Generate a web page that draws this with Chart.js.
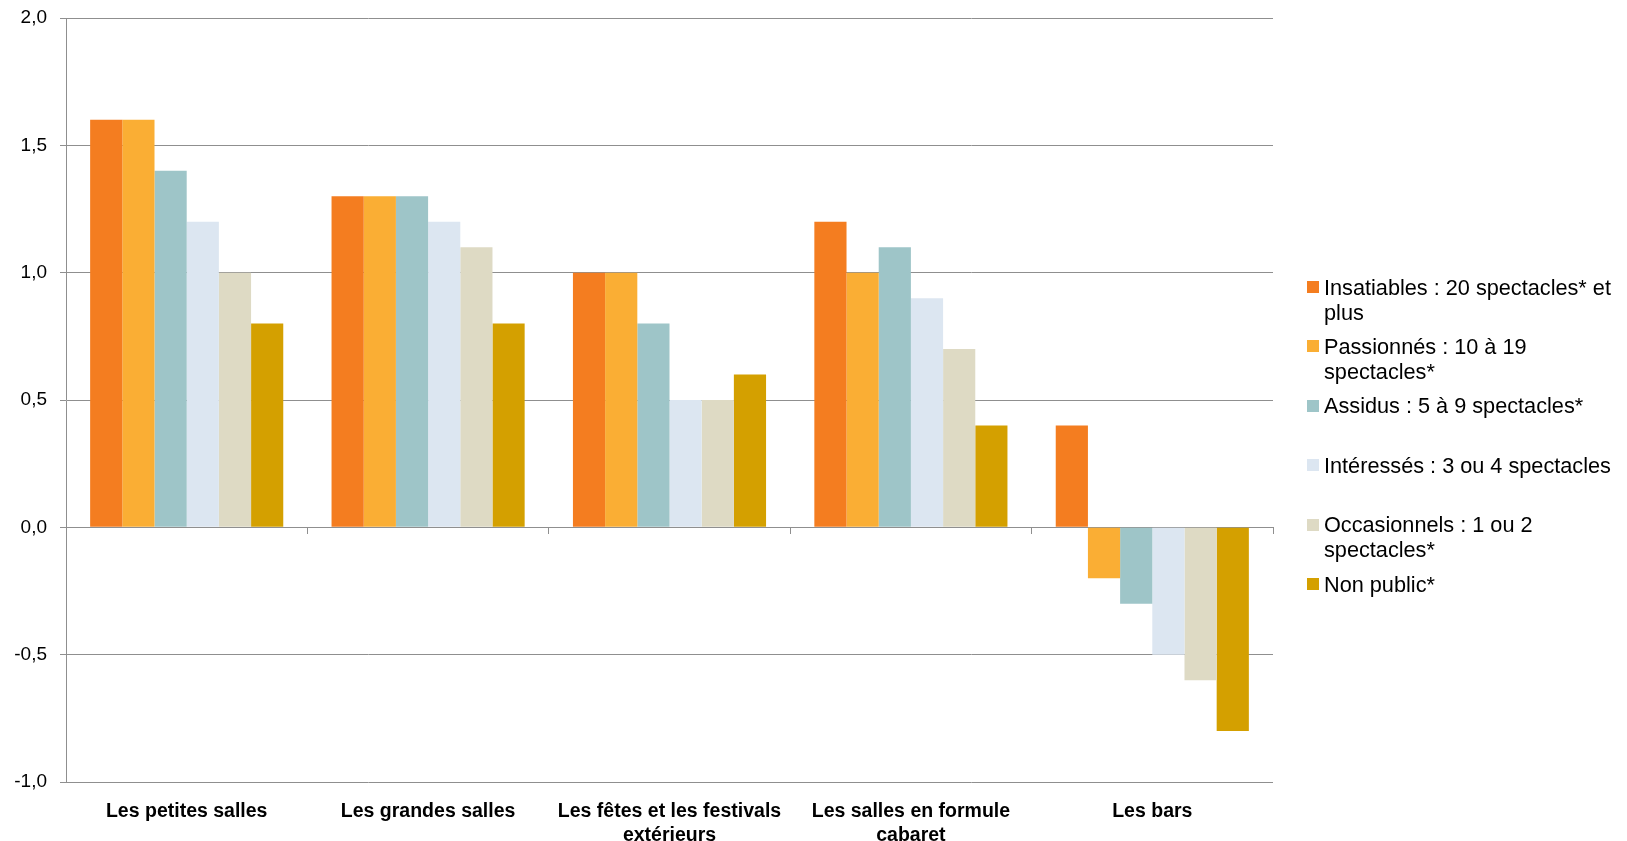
<!DOCTYPE html>
<html>
<head>
<meta charset="utf-8">
<script src="https://cdn.jsdelivr.net/npm/chart.js@4/dist/chart.umd.min.js"></script>
<style>
  html, body { margin: 0; padding: 0; background: #fff; }
  #wrap { position: relative; width: 1627px; height: 841px; overflow: hidden; }
  #c { position: absolute; left: 0; top: 0; }
  .leg { position: absolute; left: 1307px; font-family: "Liberation Sans", Arial, sans-serif; font-size: 21.7px; line-height: 25px; color: #000; white-space: nowrap; }
  .leg .sw { position: absolute; left: 0; top: 6.5px; width: 12px; height: 12px; }
  .leg .tx { position: absolute; left: 17px; top: 0; }
</style>
</head>
<body>
<div id="wrap">
  <canvas id="c" width="1627" height="841"></canvas>
</div>
<script>
// ---- data ----
const categories = [
  ["Les petites salles"],
  ["Les grandes salles"],
  ["Les fêtes et les festivals", "extérieurs"],
  ["Les salles en formule", "cabaret"],
  ["Les bars"]
];
const seriesNames = [
  ["Insatiables : 20 spectacles* et", "plus"],
  ["Passionnés : 10 à 19", "spectacles*"],
  ["Assidus : 5 à 9 spectacles*"],
  ["Intéressés : 3 ou 4 spectacles"],
  ["Occasionnels : 1 ou 2", "spectacles*"],
  ["Non public*"]
];
const insatiables  = [1.6, 1.3, 1.0, 1.2, 0.4];
const passionnes   = [1.6, 1.3, 1.0, 1.0, -0.2];
const assidus      = [1.4, 1.3, 0.8, 1.1, -0.3];
const interesses   = [1.2, 1.2, 0.5, 0.9, -0.5];
const occasionnels = [1.0, 1.1, 0.5, 0.7, -0.6];
const nonPublic    = [0.8, 0.8, 0.6, 0.4, -0.8];
const yTicks = [-1.0, -0.5, 0.0, 0.5, 1.0, 1.5, 2.0];

// ---- styles ----
const colors = ['#F47D20', '#FAAE34', '#9EC5C8', '#DCE6F1', '#DEDAC4', '#D4A000'];
const seriesValues = [insatiables, passionnes, assidus, interesses, occasionnels, nonPublic];
const gridColor = '#8f8f8f';
const FONT = '"Liberation Sans", Arial, sans-serif';

const datasets = seriesValues.map((vals, i) => ({
  label: seriesNames[i].join(' '),
  data: vals,
  backgroundColor: colors[i],
  borderWidth: 0,
  categoryPercentage: 0.8,
  barPercentage: 1.0
}));

const chart = new Chart(document.getElementById('c'), {
  type: 'bar',
  data: { labels: categories, datasets },
  options: {
    responsive: false,
    animation: false,
    devicePixelRatio: 1,
    layout: { padding: { left: 0, right: 354, top: 18, bottom: 0 } },
    plugins: { legend: { display: false }, tooltip: { enabled: false } },
    scales: {
      x: {
        type: 'category',
        position: 'bottom',
        offset: true,
        grid: { display: false, drawTicks: false },
        border: { display: false },
        ticks: {
          color: '#000',
          font: { family: FONT, size: 19.5, weight: 'bold', lineHeight: 1.22 },
          padding: 18,
          maxRotation: 0,
          autoSkip: false
        },
        afterFit: (s) => { s.height = 59; s.paddingLeft = 0; s.paddingRight = 0; }
      },
      x2: {
        type: 'category',
        labels: categories,
        position: { y: 0 },
        offset: true,
        grid: { display: true, drawOnChartArea: false, drawTicks: true, tickLength: 6, offset: true, color: gridColor, lineWidth: 1 },
        border: { display: true, color: gridColor, width: 1 },
        ticks: { display: false },
        afterFit: (s) => { s.height = 0; }
      },
      y: {
        min: -1,
        max: 2,
        afterBuildTicks: (s) => { s.ticks = yTicks.map(v => ({ value: v })); },
        grid: { color: gridColor, lineWidth: 1, drawTicks: true, tickLength: 6 },
        border: { display: true, color: gridColor, width: 1 },
        ticks: {
          color: '#000',
          font: { family: FONT, size: 19 },
          padding: 13,
          callback: (v) => Number(v).toFixed(1).replace('.', ',')
        },
        afterFit: (s) => { s.width = 66; s.paddingTop = 0; s.paddingBottom = 0; }
      }
    }
  }
});

// ---- HTML legend built from the chart's datasets ----
const wrap = document.getElementById('wrap');
chart.data.datasets.forEach((ds, i) => {
  const item = document.createElement('div');
  item.className = 'leg';
  item.style.top = (287 - 12.5 + i * 59.4) + 'px';
  const sw = document.createElement('div');
  sw.className = 'sw';
  sw.style.background = ds.backgroundColor;
  const tx = document.createElement('div');
  tx.className = 'tx';
  tx.innerHTML = seriesNames[i].map(s => s.replace(/&/g, '&amp;').replace(/</g, '&lt;')).join('<br>');
  item.appendChild(sw);
  item.appendChild(tx);
  wrap.appendChild(item);
});
</script>
</body>
</html>
